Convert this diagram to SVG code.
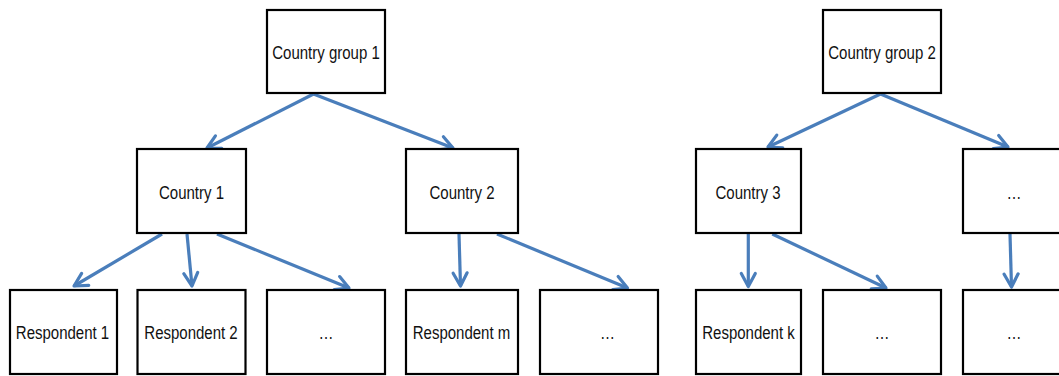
<svg xmlns="http://www.w3.org/2000/svg" width="1059" height="376" viewBox="0 0 1059 376">
  <style>
    .box { fill: #ffffff; stroke: #000000; stroke-width: 2.2; }
    .lbl { font-family: "Liberation Sans", Arial, sans-serif; font-size: 19px; fill: #111111; text-anchor: middle; }
    .conn { stroke: #4a7ebb; stroke-width: 3.2; fill: none; marker-end: url(#arr); }
  </style>
  <defs>
    <marker id="arr" markerUnits="userSpaceOnUse" viewBox="-16 -10 20 20" refX="0" refY="0" markerWidth="20" markerHeight="20" orient="auto">
      <path d="M-13,-7 L0,0 L-13,7" fill="none" stroke="#4a7ebb" stroke-width="3.2" stroke-linejoin="round" stroke-linecap="round"/>
    </marker>
  </defs>
  <rect width="1059" height="376" fill="#ffffff"/>

  <g id="connectors">
    <line class="conn" x1="313.5" y1="94" x2="207" y2="148"/>
    <line class="conn" x1="313.5" y1="94" x2="453" y2="148"/>
    <line class="conn" x1="162" y1="234" x2="74" y2="286"/>
    <line class="conn" x1="187" y1="234" x2="192" y2="286"/>
    <line class="conn" x1="217" y1="234" x2="349" y2="288"/>
    <line class="conn" x1="459" y1="234" x2="460.5" y2="286"/>
    <line class="conn" x1="497" y1="234" x2="627.5" y2="288"/>
    <line class="conn" x1="880.5" y1="94" x2="768" y2="147"/>
    <line class="conn" x1="880.5" y1="94" x2="1008" y2="147"/>
    <line class="conn" x1="748.3" y1="234" x2="748.3" y2="286.5"/>
    <line class="conn" x1="772.3" y1="234" x2="886" y2="288"/>
    <line class="conn" x1="1010" y1="234" x2="1011.5" y2="287"/>
  </g>

  <g id="country-group-1">
    <rect class="box" x="267" y="10" width="118" height="83"/>
    <text class="lbl" transform="translate(326 59) scale(0.79 1)">Country group 1</text>
  </g>
  <g id="country-group-2">
    <rect class="box" x="823" y="10" width="118" height="83"/>
    <text class="lbl" transform="translate(882 59) scale(0.79 1)">Country group 2</text>
  </g>

  <g id="country-1">
    <rect class="box" x="137" y="149" width="109" height="84"/>
    <text class="lbl" transform="translate(191.5 199) scale(0.79 1)">Country 1</text>
  </g>
  <g id="country-2">
    <rect class="box" x="406" y="149" width="112" height="84"/>
    <text class="lbl" transform="translate(462 199) scale(0.79 1)">Country 2</text>
  </g>
  <g id="country-3">
    <rect class="box" x="696" y="149" width="105" height="84"/>
    <text class="lbl" transform="translate(748 199) scale(0.79 1)">Country 3</text>
  </g>
  <g id="country-more">
    <rect class="box" x="963" y="149" width="104" height="84"/>
    <text class="lbl" transform="translate(1014 199) scale(0.79 1)">…</text>
  </g>

  <g id="respondent-1">
    <rect class="box" x="10" y="290" width="107" height="84"/>
    <text class="lbl" transform="translate(62.5 339) scale(0.79 1)">Respondent 1</text>
  </g>
  <g id="respondent-2">
    <rect class="box" x="137.5" y="290" width="108" height="84"/>
    <text class="lbl" transform="translate(191 339) scale(0.79 1)">Respondent 2</text>
  </g>
  <g id="respondent-more-1">
    <rect class="box" x="267" y="290" width="118" height="84"/>
    <text class="lbl" transform="translate(326 339) scale(0.79 1)">…</text>
  </g>
  <g id="respondent-m">
    <rect class="box" x="406" y="290" width="112" height="84"/>
    <text class="lbl" transform="translate(461.5 339) scale(0.79 1)">Respondent m</text>
  </g>
  <g id="respondent-more-2">
    <rect class="box" x="540" y="290" width="118" height="84"/>
    <text class="lbl" transform="translate(607.5 339) scale(0.79 1)">…</text>
  </g>
  <g id="respondent-k">
    <rect class="box" x="696" y="290" width="105" height="84"/>
    <text class="lbl" transform="translate(748.5 339) scale(0.79 1)">Respondent k</text>
  </g>
  <g id="respondent-more-3">
    <rect class="box" x="823" y="290" width="118" height="84"/>
    <text class="lbl" transform="translate(882 339) scale(0.79 1)">…</text>
  </g>
  <g id="respondent-more-4">
    <rect class="box" x="963" y="290" width="104" height="84"/>
    <text class="lbl" transform="translate(1014 339) scale(0.79 1)">…</text>
  </g>
</svg>
